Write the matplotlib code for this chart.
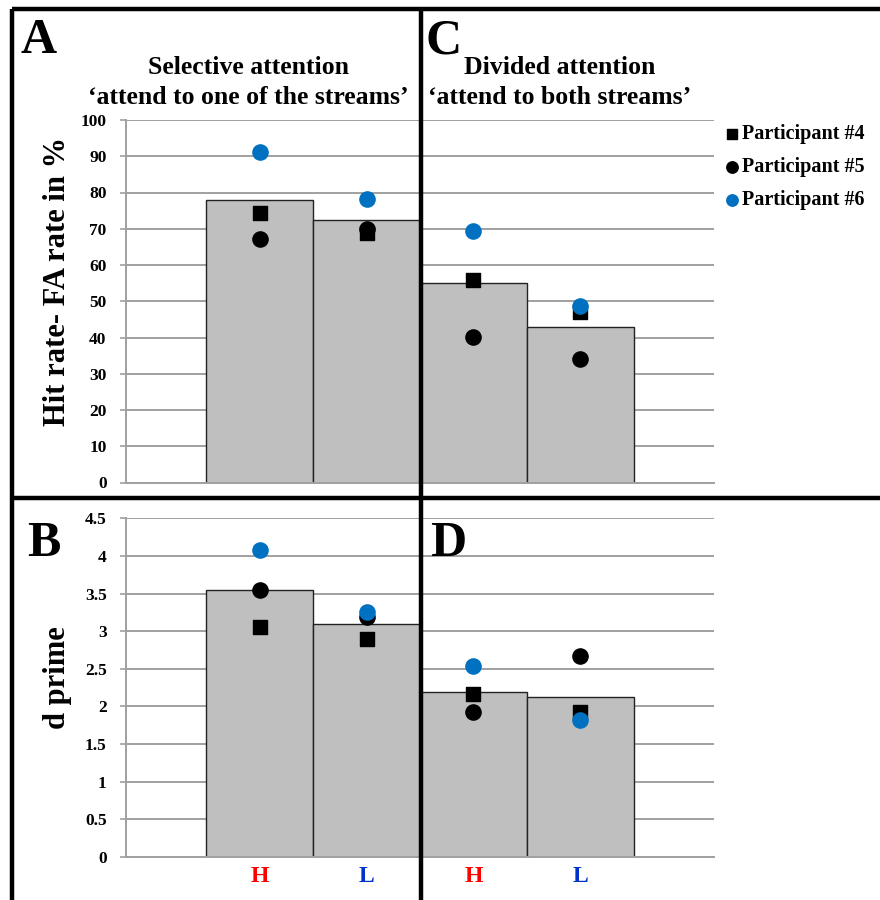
import matplotlib
matplotlib.use('Agg')
import matplotlib.pyplot as plt
from matplotlib.lines import Line2D
from matplotlib.ticker import FuncFormatter

plt.rcParams['font.family'] = ['Liberation Serif', 'DejaVu Serif']
plt.rcParams['font.weight'] = 'bold'

# categories: A-H, A-L, C-H, C-L (top) and B-H, B-L, D-H, D-L (bottom)
conditions = ['H', 'L', 'H', 'L']
cond_colors = ['#FF0000', '#0033CC', '#FF0000', '#0033CC']

hit_fa_mean = [77.9, 72.4, 55.1, 42.8]
hit_fa_p4 = [74.4, 68.9, 55.9, 47.1]
hit_fa_p5 = [67.3, 69.8, 40.2, 34.0]
hit_fa_p6 = [91.1, 78.3, 69.5, 48.7]

dprime_mean = [3.55, 3.10, 2.19, 2.12]
dprime_p4 = [3.05, 2.89, 2.17, 1.93]
dprime_p5 = [3.55, 3.19, 1.92, 2.67]
dprime_p6 = [4.08, 3.25, 2.54, 1.82]

BAR = '#BFBFBF'
GRID = '#A0A0A0'
BLUE = '#0070C0'

fig = plt.figure(figsize=(8.8, 9), dpi=100)
ax_top = fig.add_axes([126 / 880, 1 - 482.5 / 900, 588 / 880, 362.5 / 900])
ax_bot = fig.add_axes([126 / 880, 1 - 856.7 / 900, 588 / 880, 338.4 / 900])

x = list(range(len(conditions)))


def draw_panel(ax, means, p4, p5, p6, ymax, step):
    ax.bar(x, means, width=1.0, color=BAR, edgecolor='#222222', linewidth=1.0, zorder=2)
    ax.scatter(x, p4, marker='s', s=110, color='black', zorder=4, label='Participant #4')
    ax.scatter(x, p5, marker='o', s=120, color='black', zorder=3, label='Participant #5')
    ax.scatter(x, p6, marker='o', s=120, color=BLUE, zorder=5, label='Participant #6')
    ax.set_xlim(-1.25, 4.25)
    ax.set_ylim(0, ymax)
    n = int(round(ymax / step))
    ax.set_yticks([i * step for i in range(n + 1)])
    ax.yaxis.set_major_formatter(FuncFormatter(lambda v, p: '%g' % v))
    ax.grid(axis='y', color=GRID, linewidth=1.4, zorder=0)
    ax.set_axisbelow(True)
    for s in ['top', 'right']:
        ax.spines[s].set_visible(False)
    ax.spines['left'].set_color(GRID)
    ax.spines['bottom'].set_color(GRID)
    ax.spines['left'].set_linewidth(1.4)
    ax.spines['bottom'].set_linewidth(1.4)
    ax.tick_params(axis='y', length=4, color=GRID, width=1.2, pad=10, labelsize=12.5)
    for lab in ax.get_yticklabels():
        lab.set_fontweight('bold')


draw_panel(ax_top, hit_fa_mean, hit_fa_p4, hit_fa_p5, hit_fa_p6, 100, 10)
draw_panel(ax_bot, dprime_mean, dprime_p4, dprime_p5, dprime_p6, 4.5, 0.5)

ax_top.set_xticks([])
ax_bot.set_xticks(x)
ax_bot.set_xticklabels(conditions, fontsize=17, fontweight='bold')
ax_bot.tick_params(axis='x', length=0, pad=7)
for lab, c in zip(ax_bot.get_xticklabels(), cond_colors):
    lab.set_color(c)

ax_top.set_ylabel('Hit rate- FA rate in %', fontsize=22, fontweight='bold')
ax_bot.set_ylabel('d prime', fontsize=22, fontweight='bold')
ax_top.yaxis.set_label_coords(-0.092, 0.556)
ax_bot.yaxis.set_label_coords(-0.092, 0.528)

# legend
handles, labels = ax_top.get_legend_handles_labels()
fig.legend(handles, labels, loc='upper left', bbox_to_anchor=(718 / 880, 1 - 116 / 900),
           frameon=False, prop={'family': 'Liberation Serif', 'weight': 'bold', 'size': 14.5},
           handletextpad=0.2, labelspacing=0.65, borderaxespad=0, handlelength=0.6,
           markerscale=0.75)

# titles
fig.text(248 / 880, 1 - 68 / 900, 'Selective attention', ha='center', va='center',
         fontsize=18.5, fontweight='bold')
fig.text(248 / 880, 1 - 97 / 900, '\u2018attend to one of the streams\u2019', ha='center',
         va='center', fontsize=18.5, fontweight='bold')
fig.text(560 / 880, 1 - 68 / 900, 'Divided attention', ha='center', va='center',
         fontsize=18.5, fontweight='bold')
fig.text(560 / 880, 1 - 97 / 900, '\u2018attend to both streams\u2019', ha='center',
         va='center', fontsize=18.5, fontweight='bold')

# panel letters
for letter, px, py in [('A', 20, 53), ('C', 425, 53), ('B', 27, 556), ('D', 430, 556)]:
    fig.text(px / 880, 1 - py / 900, letter, ha='left', va='baseline',
             fontsize=36, fontweight='bold')

# panel frame lines
def fline(x0, y0, x1, y1):
    fig.add_artist(Line2D([x0 / 880, x1 / 880], [1 - y0 / 900, 1 - y1 / 900],
                          color='black', linewidth=3.2, zorder=10,
                          solid_capstyle='butt'))


fline(12, 9, 880, 9)
fline(12, 9, 12, 900)
fline(421, 9, 421, 900)
fline(12, 498, 880, 498)

fig.savefig('out.png', dpi=100)
